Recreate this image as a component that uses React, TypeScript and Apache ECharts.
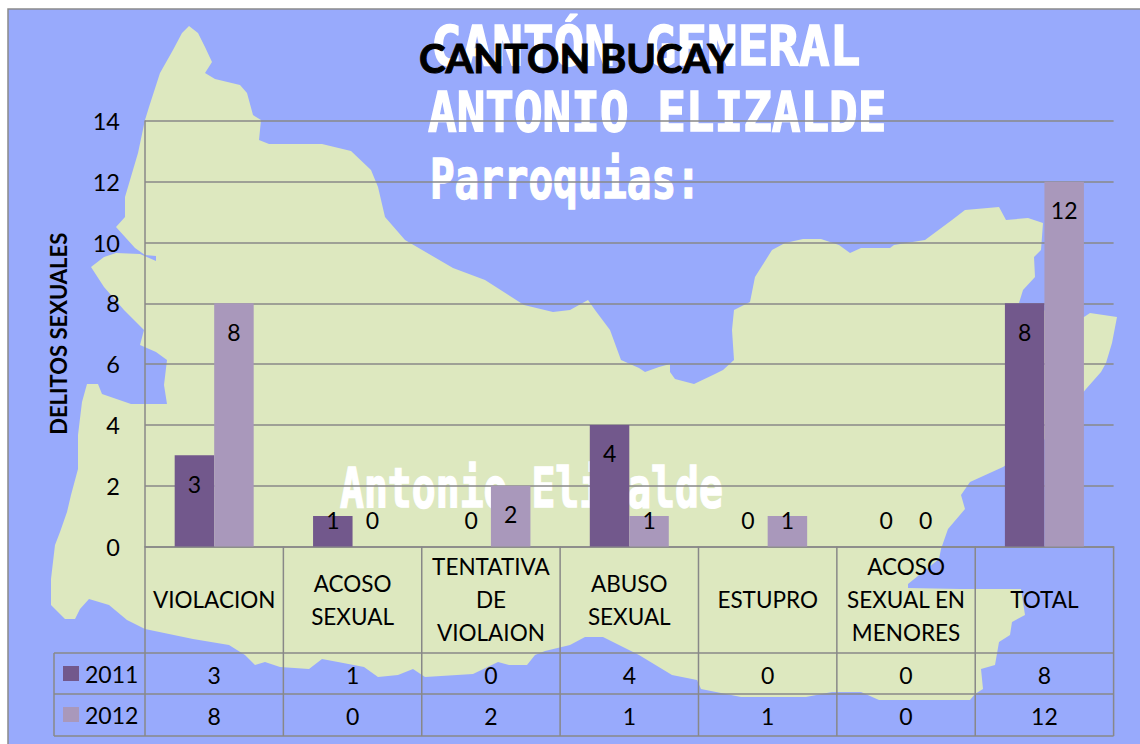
import React, { useEffect, useRef } from "react";
import * as echarts from "echarts";

const title = "CANTON BUCAY";
const yAxisName = "DELITOS SEXUALES";
const categories = [
  "VIOLACION",
  "ACOSO\nSEXUAL",
  "TENTATIVA\nDE\nVIOLAION",
  "ABUSO\nSEXUAL",
  "ESTUPRO",
  "ACOSO\nSEXUAL EN\nMENORES",
  "TOTAL",
];
const years = ["2011", "2012"];
const values2011 = [3, 1, 0, 4, 0, 0, 8];
const values2012 = [8, 0, 2, 1, 1, 0, 12];
const yTicks = { min: 0, max: 14, interval: 2 };

const FONT = "Lato, 'Noto Sans', sans-serif";
const MONO = "'DejaVu Sans Mono', monospace";
const BLUE = "#98aafc";
const GREEN = "#dde8bf";
const LINE = "#888888";
const COLORS = ["#72588c", "#a998bb"];

const GRID = { left: 145, right: 1113.6, top: 121, bottom: 546.5 };
const ROW_Y = [653, 694, 736];
const LEGEND_LEFT = 54;

const landOutline: number[][] = [
  [189, 26], [198, 33], [205, 47], [212, 62], [205, 73], [215, 79], [240, 85], [247, 93], [253, 115], [261, 120],
  [259, 140], [269, 144], [322, 144], [351, 151], [371, 170], [378, 187], [385, 217], [405, 240], [453, 268],
  [485, 280], [524, 305], [553, 312], [570, 310], [588, 300], [595, 310], [610, 330], [621, 360], [639, 368],
  [645, 372], [659, 367], [670, 364], [670, 372], [675, 379], [694, 384], [715, 374], [723, 370], [734, 360],
  [732, 330], [734, 310], [750, 302], [755, 277], [772, 250], [785, 243], [803, 239], [821, 239], [839, 245],
  [850, 253], [861, 248], [890, 248], [894, 245], [925, 240], [952, 220], [965, 210], [999, 207], [1006, 220],
  [1028, 218], [1043, 223], [1041, 250], [1034, 257], [1035, 277], [1023, 290], [1019, 303], [1050, 312],
  [1084, 317], [1090, 313], [1117, 317], [1112, 343], [1106, 363], [1101, 372], [1086, 389], [1044, 440],
  [1003, 467], [970, 482], [961, 495], [965, 509], [948, 529], [941, 549], [939, 559], [908, 584], [908, 588],
  [960, 589], [1021, 589], [1025, 615], [1012, 622], [1010, 635], [999, 642], [995, 665], [981, 669], [983, 689],
  [975, 694], [970, 700], [879, 700], [861, 692], [832, 692], [806, 697], [741, 697], [701, 689], [697, 680],
  [672, 675], [639, 655], [603, 637], [585, 637], [570, 645], [545, 651], [535, 655], [527, 665], [509, 665],
  [498, 662], [473, 674], [425, 677], [413, 669], [398, 675], [378, 677], [364, 667], [338, 662], [322, 659],
  [309, 669], [280, 667], [265, 662], [255, 665], [245, 655], [229, 645], [193, 639], [145, 629], [127, 620],
  [109, 605], [89, 599], [80, 609], [75, 619], [65, 619], [51, 605], [51, 579], [55, 545], [60, 532], [67, 512],
  [71, 495], [78, 469], [78, 435], [82, 402], [87, 384], [98, 384], [102, 394], [131, 404], [167, 404], [164, 385],
  [167, 360], [156, 352], [140, 345], [144, 330], [124, 310], [104, 287], [91, 267], [104, 257], [116, 253],
  [140, 254], [156, 261], [156, 256], [145, 255], [135, 248], [116, 227], [125, 217], [125, 197], [138, 153],
  [145, 120], [149, 107], [160, 73], [173, 50], [182, 33],
];

const whiteTexts = [
  { text: "CANTÓN GENERAL", x: 431, y: 18, scaleX: 0.91 },
  { text: "ANTONIO ELIZALDE", x: 428, y: 84, scaleX: 0.85 },
  { text: "Parroquias:", x: 430, y: 151, scaleX: 0.73 },
  { text: "Antonio Elizalde", x: 340, y: 459, scaleX: 0.71 },
];

// Vertical shift of a data label from the top of its bar.
const labelOffset = (v: number) => (v === 0 ? -38 : v === 1 ? -8 : 17);
const barData = (vals: number[]) =>
  vals.map((v) => ({ value: v, label: { offset: [0, labelOffset(v)] } }));

export default function App() {
  const ref = useRef<HTMLDivElement>(null);
  useEffect(() => {
    document.body.style.margin = "0";
    document.documentElement.style.overflow = "hidden";
    const chart = echarts.init(ref.current!, undefined, { renderer: "svg" });

    const cellW = (GRID.right - GRID.left) / categories.length;
    const lineStyle = { stroke: LINE, lineWidth: 1.5 };
    const hLine = (x1: number, x2: number, y: number) => ({
      type: "line", z: 1, shape: { x1, y1: y, x2, y2: y }, style: lineStyle, silent: true,
    });
    const vLine = (x: number, y1: number, y2: number) => ({
      type: "line", z: 1, shape: { x1: x, y1, x2: x, y2 }, style: lineStyle, silent: true,
    });

    const tableLines: any[] = [];
    for (let i = 0; i <= categories.length; i++) {
      tableLines.push(vLine(GRID.left + i * cellW, GRID.bottom, ROW_Y[2]));
    }
    ROW_Y.forEach((y) => tableLines.push(hLine(LEGEND_LEFT, GRID.right, y)));
    tableLines.push(vLine(LEGEND_LEFT, ROW_Y[0], ROW_Y[2]));

    const tableTexts: any[] = [];
    [values2011, values2012].forEach((vals, r) => {
      vals.forEach((v, i) => {
        tableTexts.push({
          type: "text",
          z: 2,
          silent: true,
          style: {
            text: String(v),
            x: GRID.left + (i + 0.5) * cellW,
            y: (ROW_Y[r] + ROW_Y[r + 1]) / 2 + 1,
            fill: "#000",
            font: `23px ${FONT}`,
            textAlign: "center",
            textVerticalAlign: "middle",
          },
        });
      });
    });

    chart.setOption({
      animation: false,
      backgroundColor: "#ffffff",
      title: {
        text: title,
        left: 419,
        top: 38,
        padding: 0,
        textStyle: {
          fontFamily: FONT,
          fontSize: 40,
          fontWeight: "bold",
          color: "#000",
          textBorderColor: "#000",
          textBorderWidth: 1,
        },
      },
      legend: {
        data: years,
        orient: "vertical",
        left: 63,
        top: 662,
        padding: 0,
        itemWidth: 16,
        itemHeight: 15,
        itemGap: 18,
        icon: "rect",
        selectedMode: false,
        textStyle: { fontFamily: FONT, fontSize: 23, color: "#000", padding: [0, 0, 0, 1] },
      },
      grid: {
        left: GRID.left,
        top: GRID.top,
        width: GRID.right - GRID.left,
        height: GRID.bottom - GRID.top,
        containLabel: false,
      },
      xAxis: {
        type: "category",
        data: categories,
        axisTick: { show: false },
        axisLine: { lineStyle: { color: LINE, width: 1.5 } },
        axisLabel: {
          interval: 0,
          margin: 53,
          fontFamily: FONT,
          fontSize: 22.5,
          color: "#000",
          lineHeight: 33,
          verticalAlign: "middle",
          hideOverlap: false,
        },
      },
      yAxis: {
        type: "value",
        min: yTicks.min,
        max: yTicks.max,
        interval: yTicks.interval,
        name: yAxisName,
        nameLocation: "middle",
        nameGap: 76,
        nameTextStyle: { fontFamily: FONT, fontSize: 22, fontWeight: "bold", color: "#000" },
        axisTick: { show: false },
        axisLine: { show: true, lineStyle: { color: LINE, width: 1.5 } },
        axisLabel: { margin: 25, fontFamily: FONT, fontSize: 23.5, color: "#000", padding: [0, 0, 6, 0] },
        splitLine: { show: true, lineStyle: { color: LINE, width: 1.5 } },
      },
      series: [values2011, values2012].map((vals, i) => ({
        type: "bar",
        name: years[i],
        data: barData(vals),
        barWidth: 39.5,
        barGap: "0%",
        itemStyle: { color: COLORS[i] },
        label: {
          show: true,
          position: "insideTop",
          distance: 0,
          fontFamily: FONT,
          fontSize: 23,
          color: "#000",
        },
      })),
      graphic: {
        elements: [
          {
            type: "rect",
            z: -10,
            silent: true,
            shape: { x: 8, y: 9, width: 1300, height: 900 },
            style: { fill: BLUE, stroke: "#8a8a8a", lineWidth: 1.5 },
          },
          {
            type: "polygon",
            z: -9,
            silent: true,
            shape: { points: landOutline },
            style: { fill: GREEN },
          },
          ...whiteTexts.map((t) => ({
            type: "text",
            z: -8,
            silent: true,
            x: t.x,
            y: t.y,
            scaleX: t.scaleX,
            style: {
              text: t.text,
              fill: "#ffffff",
              stroke: "#ffffff",
              lineWidth: 1.5,
              font: `bold 56px ${MONO}`,
              textAlign: "left",
              textVerticalAlign: "top",
            },
          })),
          ...tableLines,
          ...tableTexts,
        ],
      },
    });
    return () => chart.dispose();
  }, []);
  return (
    <div
      ref={ref}
      style={{ position: "absolute", left: 0, top: 0, width: 1140, height: 744, overflow: "hidden" }}
    />
  );
}
